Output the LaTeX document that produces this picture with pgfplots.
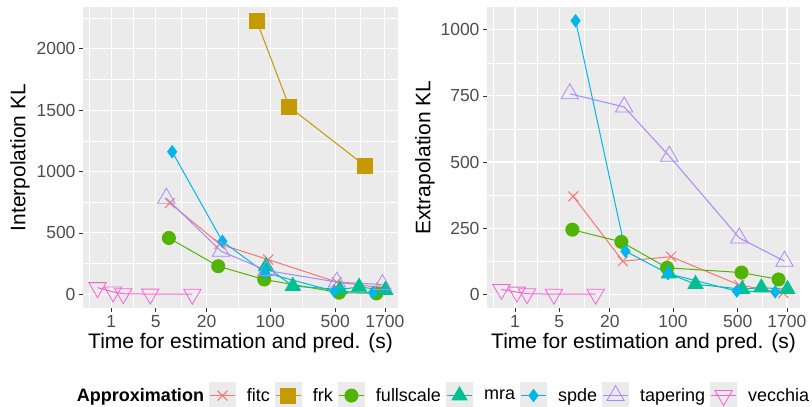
\documentclass[border=0pt]{standalone}
\usepackage{pgfplots}
\pgfplotsset{compat=1.18}
\usepackage{fontspec}
\setmainfont{Liberation Sans}
\definecolor{ggbg}{HTML}{EBEBEB}
\definecolor{gg30}{HTML}{4D4D4D}
\definecolor{gg20}{HTML}{333333}
\definecolor{keybg}{HTML}{EBEBEB}
\definecolor{cfitc}{HTML}{F8766D}
\definecolor{cfrk}{HTML}{C49A00}
\definecolor{cfull}{HTML}{53B400}
\definecolor{cmra}{HTML}{00C094}
\definecolor{cspde}{HTML}{00B6EB}
\definecolor{ctap}{HTML}{A58AFF}
\definecolor{cvec}{HTML}{FB61D7}
\pgfplotsset{
  ggbase/.style={
    scale only axis,
    axis background/.style={fill=ggbg},
    axis line style={draw=none},
    x coord trafo/.code={\pgfmathparse{log10(##1+1)}},
    x coord inv trafo/.code={\pgfmathparse{10^(##1)-1}},
    xmin=0, xmax=2350,
    xtick={1,5,20,100,500,1700},
    xticklabels={\mbox{1},\mbox{5},\mbox{20},\mbox{100},\mbox{500},\mbox{1700}},
    minor xtick={0.155,2.465,10.22,45.06,223.9,922.3},
    /pgf/number format/.cd, 1000 sep={}, assume math mode=true, /pgfplots/.cd,
    grid=both,
    major grid style={white,line width=1.1bp},
    minor grid style={white,line width=0.55bp},
    tick pos=left,
    tick align=outside,
    major tick length=4bp,
    minor tick length=0bp,
    tick style={gg20,line width=0.6bp},
    ticklabel style={font=\fontsize{17.5bp}{20bp}\selectfont, text=gg30},
    label style={font=\fontsize{21bp}{25bp}\selectfont},
    xlabel={Time for estimation and pred. (s)},
    xlabel style={at={(axis description cs:0.5,-0.116)},anchor=center},
    every axis plot/.append style={line width=1bp},
  },
  sfitc/.style={color=cfitc, mark=x, mark size=7bp, mark options={line width=1bp}},
  sfrk/.style={color=cfrk, mark=square*, mark size=7.5bp},
  sfull/.style={color=cfull, mark=*, mark size=6.5bp},
  smra/.style={color=cmra, mark=triangle*, mark size=8.5bp},
  sspde/.style={color=cspde, mark=diamond*, mark size=6bp},
  stap/.style={color=ctap, mark=triangle, mark size=10bp, mark options={line width=0.8bp}},
  svec/.style={color=cvec, mark=triangle, mark size=10bp, mark options={rotate=180,line width=0.8bp}},
}
\begin{document}
\begin{tikzpicture}
\path[use as bounding box] (0,0) rectangle (812bp,407bp);
% ---------------- left panel ----------------
\begin{axis}[ggbase,
  at={(83bp,99bp)}, anchor=south west,
  width=315bp, height=301bp,
  ymin=-111, ymax=2339,
  ytick={0,500,1000,1500,2000},
  minor ytick={250,750,1250,1750,2250},
  ylabel={Interpolation KL},
  ylabel style={at={(axis description cs:-0.2,0.5)},anchor=center},
  legend columns=-1,
  legend style={at={(axis description cs:-0.054,-0.291)}, anchor=west,
    draw=none, fill=none, inner sep=0pt, outer sep=0pt,
    font=\fontsize{18bp}{21bp}\selectfont,
    nodes={inner xsep=3bp, inner ysep=0bp},
    /tikz/every even column/.append style={column sep=2bp},
    /tikz/every odd column/.append style={column sep=8bp}},
  legend cell align=left,
  legend image code/.code={
    \draw[overlay,draw=keybg,line width=27bp,line cap=butt] (-1bp,0bp) -- (26bp,0bp);
    \path[draw=none,fill=none] (-1bp,-13.5bp) rectangle (26bp,13.5bp);
    \draw[mark repeat=2,mark phase=2,#1] plot coordinates {(0bp,0bp) (12.5bp,0bp) (25bp,0bp)};
  },
]
\addlegendimage{empty legend}
\addlegendentry{\bfseries Approximation}
\addplot[sfitc] coordinates {(7.5,743) (28,410) (95,283) (520,100) (1550,55)};
\addlegendentry{fitc}
\addplot[sfrk] coordinates {(71,2228) (161,1525) (1040,1047)};
\addlegendentry{frk}
\addplot[sfull] coordinates {(7.3,459) (27,229) (86,121) (550,14) (1380,8)};
\addlegendentry{fullscale}
\addplot[smra] coordinates {(90,228) (175,67) (560,40) (900,60) (1720,35)};
\addlegendentry{mra}
\addplot[sspde] coordinates {(8,1161) (30,432) (88,176) (490,25) (1270,15)};
\addlegendentry{spde}
\addplot[stap] coordinates {(6.8,783) (29,351) (91,195) (520,100) (1600,80)};
\addlegendentry{tapering}
\addplot[svec] coordinates {(0.43,55) (1.1,20) (1.7,5) (4.25,2) (13.8,1)};
\addlegendentry{vecchia}
\end{axis}
% ---------------- right panel ----------------
\begin{axis}[ggbase,
  at={(487bp,99bp)}, anchor=south west,
  width=313bp, height=301bp,
  ymin=-52, ymax=1086,
  ytick={0,250,500,750,1000},
  minor ytick={125,375,625,875},
  ylabel={Extrapolation KL},
  ylabel style={at={(axis description cs:-0.198,0.5)},anchor=center},
]
\addplot[sfitc] coordinates {(7.5,370) (28,125) (95,142) (520,35) (1550,5)};
\addplot[sfull] coordinates {(7.3,244) (27,198) (86,100) (550,82) (1380,56)};
\addplot[smra] coordinates {(90,78) (175,38) (560,19) (900,25) (1720,19)};
\addplot[sspde] coordinates {(8,1034) (30,163) (88,78) (490,12) (1270,9)};
\addplot[stap] coordinates {(6.8,758) (29,708) (91,522) (520,213) (1600,125)};
\addplot[svec] coordinates {(0.43,18) (1.1,8) (1.7,2) (4.25,0) (13.8,0)};
\end{axis}
\end{tikzpicture}
\end{document}
